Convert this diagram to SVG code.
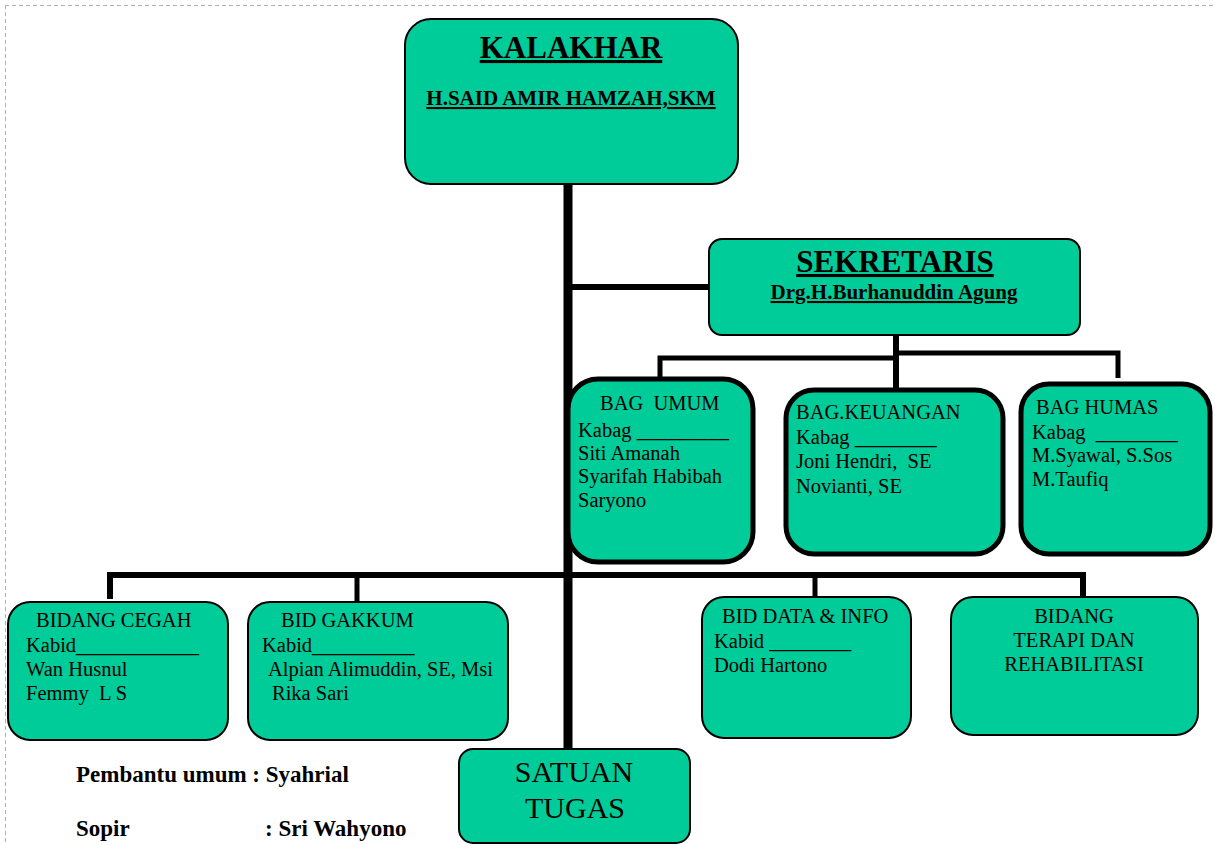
<svg xmlns="http://www.w3.org/2000/svg" width="1215" height="845" viewBox="0 0 1215 845">
<style>
.box{fill:#00CC99;stroke:#000;stroke-width:2}
.thick{fill:#00CC99;stroke:#000;stroke-width:5}
.t{font-family:"Liberation Serif","Times New Roman",serif;fill:#000;font-size:20.5px}
.b{font-weight:bold;text-decoration:underline}
.c{text-anchor:middle}
.big{font-size:31px}
.mid{font-size:21px}
.st{font-size:30px}
.note{font-weight:bold;font-size:23px}
.ln{stroke:#000;fill:none}
</style>
<rect width="1215" height="845" fill="#fff"/>
<g id="page-border" stroke="#b0b0b0" stroke-width="1" stroke-dasharray="4,3" fill="none">
<line x1="5" y1="5.5" x2="1215" y2="5.5"/>
<line x1="5.5" y1="5" x2="5.5" y2="845"/>
</g>
<g id="connectors">
<line class="ln" x1="568" y1="184" x2="568" y2="750" stroke-width="9"/>
<line class="ln" x1="568" y1="287" x2="710" y2="287" stroke-width="6"/>
<line class="ln" x1="896" y1="334" x2="896" y2="389" stroke-width="6"/>
<polyline class="ln" points="660,378 660,358 896,358" stroke-width="5"/>
<polyline class="ln" points="896,353 1118,353 1118,378" stroke-width="5"/>
<polyline class="ln" points="110,599 110,575 1083,575 1083,596" stroke-width="6"/>
<line class="ln" x1="357" y1="575" x2="357" y2="602" stroke-width="5"/>
<line class="ln" x1="815" y1="575" x2="815" y2="598" stroke-width="5"/>
</g>
<g id="kalakhar">
<rect class="box" x="405" y="19" width="333" height="165" rx="26"/>
<text class="t b c big" x="571" y="58">KALAKHAR</text>
<text class="t b c mid" x="571" y="105">H.SAID AMIR HAMZAH,SKM</text>
</g>
<g id="sekretaris">
<rect class="box" x="709" y="239" width="371" height="96" rx="13"/>
<text class="t b c big" x="895" y="272">SEKRETARIS</text>
<text class="t b c mid" x="894" y="299">Drg.H.Burhanuddin Agung</text>
</g>
<g id="bag-umum">
<rect class="thick" x="568" y="379" width="185" height="183" rx="30"/>
<text class="t" x="600" y="410" xml:space="preserve">BAG  UMUM</text>
<text class="t" x="578" y="437">Kabag _________</text>
<text class="t" x="578" y="460">Siti Amanah</text>
<text class="t" x="578" y="483">Syarifah Habibah</text>
<text class="t" x="578" y="507">Saryono</text>
</g>
<g id="bag-keuangan">
<rect class="thick" x="786" y="390" width="217" height="164" rx="28"/>
<text class="t" x="796" y="419">BAG.KEUANGAN</text>
<text class="t" x="796" y="444">Kabag ________</text>
<text class="t" x="796" y="468" xml:space="preserve">Joni Hendri,  SE</text>
<text class="t" x="796" y="493">Novianti, SE</text>
</g>
<g id="bag-humas">
<rect class="thick" x="1021" y="384" width="189" height="170" rx="28"/>
<text class="t" x="1036" y="414">BAG HUMAS</text>
<text class="t" x="1032" y="439" xml:space="preserve">Kabag  ________</text>
<text class="t" x="1032" y="462">M.Syawal, S.Sos</text>
<text class="t" x="1032" y="486">M.Taufiq</text>
</g>
<g id="bidang-cegah">
<rect class="box" x="8" y="602" width="220" height="138" rx="22"/>
<text class="t" x="36" y="627">BIDANG CEGAH</text>
<text class="t" x="26" y="652">Kabid____________</text>
<text class="t" x="26" y="676">Wan Husnul</text>
<text class="t" x="26" y="700" xml:space="preserve">Femmy  L S</text>
</g>
<g id="bid-gakkum">
<rect class="box" x="248" y="602" width="260" height="138" rx="22"/>
<text class="t" x="281" y="627">BID GAKKUM</text>
<text class="t" x="262" y="652">Kabid__________</text>
<text class="t" x="268" y="676">Alpian Alimuddin, SE, Msi</text>
<text class="t" x="272" y="700">Rika Sari</text>
</g>
<g id="bid-data-info">
<rect class="box" x="702" y="597" width="209" height="141" rx="22"/>
<text class="t" x="722" y="623">BID DATA &amp; INFO</text>
<text class="t" x="714" y="648">Kabid ________</text>
<text class="t" x="714" y="672">Dodi Hartono</text>
</g>
<g id="bidang-terapi">
<rect class="box" x="951" y="597" width="247" height="138" rx="22"/>
<text class="t c" x="1074" y="623">BIDANG</text>
<text class="t c" x="1074" y="647">TERAPI DAN</text>
<text class="t c" x="1074" y="671">REHABILITASI</text>
</g>
<g id="satuan-tugas">
<rect class="box" x="459" y="749" width="231" height="94" rx="14"/>
<text class="t c st" x="574" y="782">SATUAN</text>
<text class="t c st" x="575" y="818">TUGAS</text>
</g>
<g id="notes">
<text class="t note" x="76" y="782">Pembantu umum : Syahrial</text>
<text class="t note" x="76" y="836">Sopir</text>
<text class="t note" x="265" y="836">: Sri Wahyono</text>
</g>
</svg>
